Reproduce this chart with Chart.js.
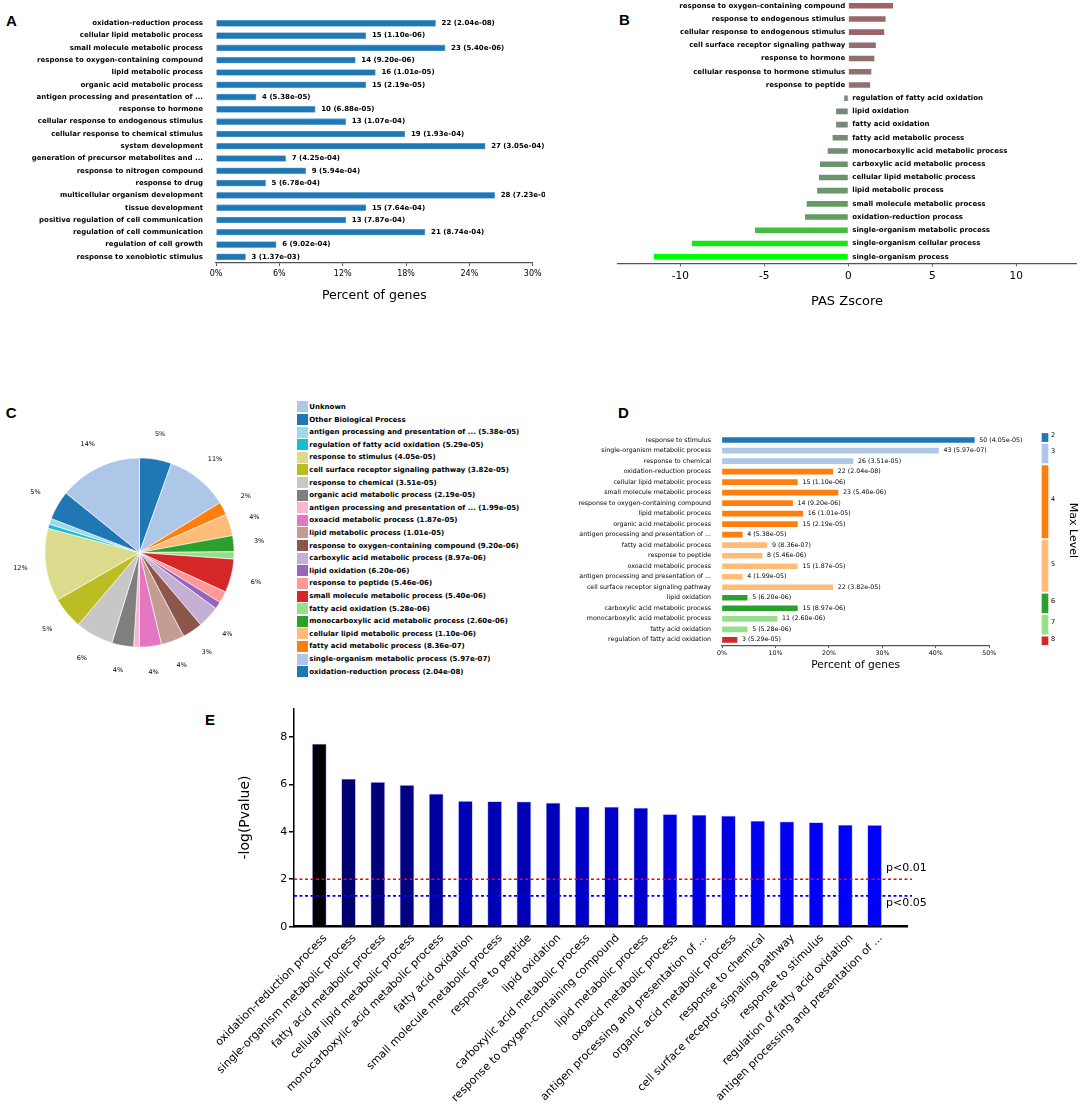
<!DOCTYPE html>
<html>
<head>
<meta charset="utf-8">
<script src="https://cdn.jsdelivr.net/npm/chart.js@4.4.0/dist/chart.umd.min.js"></script>
<style>
  html, body { margin: 0; padding: 0; background: #fff; }
  body { width: 1084px; height: 1105px; position: relative; overflow: hidden; font-family: "DejaVu Sans", sans-serif; }
  canvas { position: absolute; }
  .letter { position: absolute; font: bold 15px "Liberation Sans", Arial, sans-serif; color: #000; line-height: 15px; }
  #legendC { position: absolute; left: 296.7px; top: 400.6px; }
  #legendC .it { height: 12.62px; display: flex; align-items: center; white-space: nowrap; font: bold 7px "DejaVu Sans", sans-serif; color: #000; }
  #legendC .bx { width: 11px; height: 11px; margin-right: 1.6px; flex: none; }
</style>
</head>
<body>
<div class="letter" style="left:6px;top:12.7px">A</div>
<div class="letter" style="left:619px;top:12px">B</div>
<div class="letter" style="left:5.7px;top:405px">C</div>
<div class="letter" style="left:618px;top:405.4px">D</div>
<div class="letter" style="left:205px;top:711.7px">E</div>

<canvas id="chartA" width="545" height="305" style="left:0px;top:0px"></canvas>
<canvas id="chartB" width="539" height="315" style="left:545px;top:-5px"></canvas>
<canvas id="chartC" width="279" height="305" style="left:0px;top:400px"></canvas>
<div id="legendC"></div>
<canvas id="chartD" width="480" height="255" style="left:550px;top:420px"></canvas>
<canvas id="chartLevel" width="48" height="214.5" style="left:1036px;top:430.6px"></canvas>
<canvas id="chartE" width="904" height="415" style="left:180px;top:690px"></canvas>

<script>
// ---- panel A: top GO terms, percent of genes ----
const aLabels = ['oxidation-reduction process', 'cellular lipid metabolic process', 'small molecule metabolic process',
  'response to oxygen-containing compound', 'lipid metabolic process', 'organic acid metabolic process',
  'antigen processing and presentation of ...', 'response to hormone', 'cellular response to endogenous stimulus',
  'cellular response to chemical stimulus', 'system development', 'generation of precursor metabolites and ...',
  'response to nitrogen compound', 'response to drug', 'multicellular organism development', 'tissue development',
  'positive regulation of cell communication', 'regulation of cell communication', 'regulation of cell growth',
  'response to xenobiotic stimulus'];
const aPercent = [20.8, 14.2, 21.7, 13.2, 15.1, 14.2, 3.8, 9.4, 12.3, 17.9, 25.5, 6.6, 8.5, 4.7, 26.4, 14.2, 12.3, 19.8, 5.7, 2.8];
const aCounts = [22, 15, 23, 14, 16, 15, 4, 10, 13, 19, 27, 7, 9, 5, 28, 15, 13, 21, 6, 3];
const aPvals = ['2.04e-08', '1.10e-06', '5.40e-06', '9.20e-06', '1.01e-05', '2.19e-05', '5.38e-05', '6.88e-05', '1.07e-04',
  '1.93e-04', '3.05e-04', '4.25e-04', '5.94e-04', '6.78e-04', '7.23e-04', '7.64e-04', '7.87e-04', '8.74e-04', '9.02e-04', '1.37e-03'];

// ---- panel B: PAS z-scores ----
const bLabels = ['response to oxygen-containing compound', 'response to endogenous stimulus', 'cellular response to endogenous stimulus',
  'cell surface receptor signaling pathway', 'response to hormone', 'cellular response to hormone stimulus', 'response to peptide',
  'regulation of fatty acid oxidation', 'lipid oxidation', 'fatty acid oxidation', 'fatty acid metabolic process',
  'monocarboxylic acid metabolic process', 'carboxylic acid metabolic process', 'cellular lipid metabolic process',
  'lipid metabolic process', 'small molecule metabolic process', 'oxidation-reduction process',
  'single-organism metabolic process', 'single-organism cellular process', 'single-organism process'];
const bZscore = [2.69, 2.25, 2.17, 1.67, 1.58, 1.40, 1.33, -0.27, -0.75, -0.75, -0.96, -1.25, -1.71, -1.77, -1.88, -2.50, -2.60, -5.58, -9.33, -11.60];

// ---- panel C: pie of terms (clockwise from 12 o'clock) ----
const pieNames = ['oxidation-reduction process', 'single-organism metabolic process', 'fatty acid metabolic process',
  'cellular lipid metabolic process', 'monocarboxylic acid metabolic process', 'fatty acid oxidation',
  'small molecule metabolic process', 'response to peptide', 'lipid oxidation', 'carboxylic acid metabolic process',
  'response to oxygen-containing compound', 'lipid metabolic process', 'oxoacid metabolic process',
  'antigen processing and presentation of ...', 'organic acid metabolic process', 'response to chemical',
  'cell surface receptor signaling pathway', 'response to stimulus', 'regulation of fatty acid oxidation',
  'antigen processing and presentation of ...', 'Other Biological Process', 'Unknown'];
const piePvals = ['2.04e-08', '5.97e-07', '8.36e-07', '1.10e-06', '2.60e-06', '5.28e-06', '5.40e-06', '5.46e-06', '6.20e-06',
  '8.97e-06', '9.20e-06', '1.01e-05', '1.87e-05', '1.99e-05', '2.19e-05', '3.51e-05', '3.82e-05', '4.05e-05', '5.29e-05',
  '5.38e-05', '', ''];
const pieCounts = [22, 43, 9, 15, 11, 5, 23, 8, 5, 15, 14, 16, 15, 4, 15, 26, 22, 50, 3, 4, 20, 57];
const pieColors = ['#1f77b4', '#aec7e8', '#ff7f0e', '#ffbb78', '#2ca02c', '#98df8a', '#d62728', '#ff9896', '#9467bd',
  '#c5b0d5', '#8c564b', '#c49c94', '#e377c2', '#f7b6d2', '#7f7f7f', '#c7c7c7', '#bcbd22', '#dbdb8d', '#17becf',
  '#9edae5', '#1f77b4', '#aec7e8'];

// ---- panel D: terms by max level ----
const dLabels = ['response to stimulus', 'single-organism metabolic process', 'response to chemical', 'oxidation-reduction process',
  'cellular lipid metabolic process', 'small molecule metabolic process', 'response to oxygen-containing compound',
  'lipid metabolic process', 'organic acid metabolic process', 'antigen processing and presentation of ...',
  'fatty acid metabolic process', 'response to peptide', 'oxoacid metabolic process', 'antigen processing and presentation of ...',
  'cell surface receptor signaling pathway', 'lipid oxidation', 'carboxylic acid metabolic process',
  'monocarboxylic acid metabolic process', 'fatty acid oxidation', 'regulation of fatty acid oxidation'];
const dPercent = [47.2, 40.5, 24.5, 20.7, 14.1, 21.7, 13.2, 15.1, 14.1, 3.8, 8.4, 7.5, 14.1, 3.8, 20.7, 4.7, 14.1, 10.3, 4.7, 2.8];
const dCounts = [50, 43, 26, 22, 15, 23, 14, 16, 15, 4, 9, 8, 15, 4, 22, 5, 15, 11, 5, 3];
const dPvals = ['4.05e-05', '5.97e-07', '3.51e-05', '2.04e-08', '1.10e-06', '5.40e-06', '9.20e-06', '1.01e-05', '2.19e-05',
  '5.38e-05', '8.36e-07', '5.46e-06', '1.87e-05', '1.99e-05', '3.82e-05', '6.20e-06', '8.97e-06', '2.60e-06', '5.28e-06', '5.29e-05'];
const dLevels = [2, 3, 3, 4, 4, 4, 4, 4, 4, 4, 5, 5, 5, 5, 5, 6, 6, 7, 7, 8];
const levelColors = { 2: '#1f77b4', 3: '#aec7e8', 4: '#ff7f0e', 5: '#ffbb78', 6: '#2ca02c', 7: '#98df8a', 8: '#d62728' };

// ---- panel E: -log(P) ----
const eLabels = ['oxidation-reduction process', 'single-organism metabolic process', 'fatty acid metabolic process',
  'cellular lipid metabolic process', 'monocarboxylic acid metabolic process', 'fatty acid oxidation',
  'small molecule metabolic process', 'response to peptide', 'lipid oxidation', 'carboxylic acid metabolic process',
  'response to oxygen-containing compound', 'lipid metabolic process', 'oxoacid metabolic process',
  'antigen processing and presentation of ...', 'organic acid metabolic process', 'response to chemical',
  'cell surface receptor signaling pathway', 'response to stimulus', 'regulation of fatty acid oxidation',
  'antigen processing and presentation of ...'];
const eValues = [7.69, 6.22, 6.08, 5.96, 5.59, 5.28, 5.27, 5.26, 5.21, 5.05, 5.04, 5.00, 4.73, 4.70, 4.66, 4.45, 4.42, 4.39, 4.28, 4.27];
const eCutoffs = [2, 1.3];
const eCutoffLabels = ['p<0.01', 'p<0.05'];
const eCutoffColors = ['#ff0000', '#0000ff'];

Chart.defaults.font.family = '"DejaVu Sans", sans-serif';
Chart.defaults.color = '#000';
Chart.defaults.animation = false;
Chart.defaults.plugins.legend.display = false;
Chart.defaults.plugins.tooltip.enabled = false;

// text after the end of each horizontal bar
const barTextPlugin = {
  id: 'barText',
  afterDatasetsDraw(chart, args, opts) {
    const { ctx } = chart;
    const meta = chart.getDatasetMeta(0);
    ctx.save();
    ctx.font = opts.font;
    ctx.fillStyle = '#000';
    ctx.textBaseline = 'middle';
    ctx.textAlign = 'left';
    meta.data.forEach((bar, i) => {
      ctx.fillText(opts.texts[i], bar.x + opts.gap, bar.y);
    });
    ctx.restore();
  }
};

// ---------- A ----------
new Chart(document.getElementById('chartA'), {
  type: 'bar',
  data: {
    labels: aLabels,
    datasets: [{ data: aPercent, backgroundColor: '#1f77b4', borderColor: '#6aa6d6', borderWidth: 0.8, barThickness: 6 }]
  },
  options: {
    indexAxis: 'y',
    responsive: false,
    layout: { padding: { top: 9.4, right: 12.3, bottom: 0, left: 0 } },
    scales: {
      y: {
        afterFit: s => { s.width = 216; },
        grid: { display: false, drawTicks: false },
        border: { display: false },
        ticks: { autoSkip: false, padding: 13, font: { size: 7, weight: 'bold' } }
      },
      x: {
        min: 0, max: 30,
        afterFit: s => { s.height = 42; },
        ticks: { stepSize: 6, callback: v => v + '%', font: { size: 8 }, padding: 3 },
        grid: { drawOnChartArea: false, tickLength: 3, color: '#555' },
        border: { color: '#555', width: 1.3 },
        title: { display: true, text: 'Percent of genes', font: { size: 12.5 }, padding: { top: 0, bottom: 1.5 } }
      }
    },
    plugins: {
      barText: { texts: aLabels.map((_, i) => aCounts[i] + ' (' + aPvals[i] + ')'), font: 'bold 7px "DejaVu Sans"', gap: 6 }
    }
  },
  plugins: [barTextPlugin]
});

// ---------- B ----------
const bMax = Math.max(...bZscore.map(Math.abs));
function zColor(v) {
  const t = Math.min(1, Math.abs(v) / bMax);
  const hi = Math.round(128 + 127 * t), lo = Math.round(128 - 128 * t);
  return v >= 0 ? `rgb(${hi},${lo},${lo})` : `rgb(${lo},${hi},${lo})`;
}
const zeroLabelPlugin = {
  id: 'zeroLabels',
  afterDatasetsDraw(chart) {
    const { ctx } = chart;
    const meta = chart.getDatasetMeta(0);
    const x0 = chart.scales.x.getPixelForValue(0);
    ctx.save();
    ctx.font = 'bold 7px "DejaVu Sans"';
    ctx.fillStyle = '#000';
    ctx.textBaseline = 'middle';
    meta.data.forEach((bar, i) => {
      if (bZscore[i] >= 0) { ctx.textAlign = 'right'; ctx.fillText(bLabels[i], x0 - 3, bar.y); }
      else { ctx.textAlign = 'left'; ctx.fillText(bLabels[i], x0 + 4, bar.y); }
    });
    ctx.restore();
  }
};
new Chart(document.getElementById('chartB'), {
  type: 'bar',
  data: {
    labels: bLabels,
    datasets: [{
      data: bZscore,
      backgroundColor: bZscore.map(zColor),
      borderColor: 'rgba(255,255,255,0.45)',
      borderWidth: 0.8,
      barThickness: 6.5
    }]
  },
  options: {
    indexAxis: 'y',
    responsive: false,
    layout: { padding: { top: 4.1, right: 7.3, bottom: 0, left: 72.3 } },
    scales: {
      y: { display: false },
      x: {
        min: -13.75, max: 13.6,
        afterFit: s => { s.height = 46.7; },
        ticks: { stepSize: 5, includeBounds: false, font: { size: 10.5 }, padding: 4 },
        grid: { drawOnChartArea: false, tickLength: 3, color: '#555' },
        border: { color: '#555', width: 1.3 },
        title: { display: true, text: 'PAS Zscore', font: { size: 13 }, padding: { top: 0, bottom: 0.5 } }
      }
    }
  },
  plugins: [zeroLabelPlugin]
});

// ---------- C ----------
const pieLabelPlugin = {
  id: 'pieLabels',
  afterDatasetsDraw(chart) {
    const { ctx } = chart;
    const data = chart.data.datasets[0].data;
    const total = data.reduce((a, b) => a + b, 0);
    ctx.save();
    ctx.font = '6.5px "DejaVu Sans"';
    ctx.fillStyle = '#000';
    ctx.textAlign = 'center';
    ctx.textBaseline = 'middle';
    chart.getDatasetMeta(0).data.forEach((arc, i) => {
      const pct = data[i] / total * 100;
      if (pct < 2) return;
      const a = (arc.startAngle + arc.endAngle) / 2;
      const r = arc.outerRadius * 1.27;
      ctx.fillText(Math.round(pct) + '%', arc.x + Math.cos(a) * r, arc.y + Math.sin(a) * r);
    });
    ctx.restore();
  }
};
new Chart(document.getElementById('chartC'), {
  type: 'pie',
  data: {
    labels: pieNames,
    datasets: [{ data: pieCounts, backgroundColor: pieColors, borderColor: '#fff', borderWidth: 0.6 }]
  },
  options: { responsive: false, radius: 94.6 },
  plugins: [pieLabelPlugin]
});
// legend lists slices in reverse order
const legendC = document.getElementById('legendC');
for (let i = pieNames.length - 1; i >= 0; i--) {
  const it = document.createElement('div');
  it.className = 'it';
  const bx = document.createElement('span');
  bx.className = 'bx';
  bx.style.background = pieColors[i];
  const tx = document.createElement('span');
  tx.textContent = pieNames[i] + (piePvals[i] ? ' (' + piePvals[i] + ')' : '');
  it.appendChild(bx);
  it.appendChild(tx);
  legendC.appendChild(it);
}

// ---------- D ----------
new Chart(document.getElementById('chartD'), {
  type: 'bar',
  data: {
    labels: dLabels,
    datasets: [{ data: dPercent, backgroundColor: dLevels.map(l => levelColors[l]), barThickness: 5 }]
  },
  options: {
    indexAxis: 'y',
    responsive: false,
    layout: { padding: { top: 10.6, right: 40.7, bottom: 0, left: 0 } },
    scales: {
      y: {
        afterFit: s => { s.width = 172; },
        grid: { display: false, drawTicks: false },
        border: { display: false },
        ticks: { autoSkip: false, padding: 11, font: { size: 6.3 } }
      },
      x: {
        min: 0, max: 50,
        afterFit: s => { s.height = 29.9; },
        ticks: { stepSize: 10, callback: v => v + '%', font: { size: 6.3 }, padding: 1.5 },
        grid: { drawOnChartArea: false, tickLength: 3, color: '#555' },
        border: { color: '#555', width: 1.2 },
        title: { display: true, text: 'Percent of genes', font: { size: 10.6 }, padding: { top: 0, bottom: 3.6 } }
      }
    },
    plugins: {
      barText: { texts: dLabels.map((_, i) => dCounts[i] + ' (' + dPvals[i] + ')'), font: '6.3px "DejaVu Sans"', gap: 5 }
    }
  },
  plugins: [barTextPlugin]
});

// level strip next to panel D: one floating bar per level, spanning its rows
const levelGroups = [];
dLevels.forEach((l, i) => {
  const g = levelGroups.find(x => x.level === l);
  if (g) g.last = i; else levelGroups.push({ level: l, first: i, last: i });
});
const levelTextPlugin = {
  id: 'levelText',
  afterDatasetsDraw(chart) {
    const { ctx } = chart;
    ctx.save();
    ctx.fillStyle = '#000';
    ctx.font = '6.5px "DejaVu Sans"';
    ctx.textAlign = 'left';
    ctx.textBaseline = 'middle';
    chart.data.datasets.forEach((ds, i) => {
      const bar = chart.getDatasetMeta(i).data[0];
      ctx.fillText(ds.label, bar.x + bar.width / 2 + 3, (bar.y + bar.base) / 2 - 2);
    });
    ctx.font = '11px "DejaVu Sans"';
    ctx.textAlign = 'center';
    ctx.translate(36.8, 99.4);
    ctx.rotate(Math.PI / 2);
    ctx.fillText('Max Level', 0, 0);
    ctx.restore();
  }
};
new Chart(document.getElementById('chartLevel'), {
  type: 'bar',
  data: {
    labels: ['level'],
    datasets: levelGroups.map(g => ({
      label: String(g.level),
      data: [[g.first - 0.27, g.last + 0.49]],
      backgroundColor: levelColors[g.level],
      grouped: false,
      barThickness: 6
    }))
  },
  options: {
    responsive: false,
    layout: { padding: { top: 0, right: 30, bottom: 0, left: 0 } },
    scales: {
      x: { display: false },
      y: { display: false, min: -0.5, max: 19.5, reverse: true }
    }
  },
  plugins: [levelTextPlugin]
});

// ---------- E ----------
const eMax = Math.max(...eValues), eMin = Math.min(...eValues);
const eColors = eValues.map(v => `rgb(0,0,${Math.round(255 * (1 - (v - eMin) / (eMax - eMin)))})`);
const cutoffTextPlugin = {
  id: 'cutoffText',
  afterDatasetsDraw(chart) {
    const { ctx } = chart;
    const xs = chart.scales.x, ys = chart.scales.y;
    ctx.save();
    ctx.font = '11px "DejaVu Sans"';
    ctx.fillStyle = '#000';
    ctx.textAlign = 'left';
    ctx.textBaseline = 'middle';
    const x = xs.getPixelForValue(eValues.length - 1) + 11.5;
    ctx.fillText(eCutoffLabels[0], x, ys.getPixelForValue(eCutoffs[0]) - 11);
    ctx.fillText(eCutoffLabels[1], x, ys.getPixelForValue(eCutoffs[1]) + 7.5);
    ctx.restore();
  }
};
const eXMin = -0.866, eXMax = 20.13;
new Chart(document.getElementById('chartE'), {
  type: 'bar',
  data: {
    datasets: [
      {
        type: 'bar', order: 1,
        data: eValues.map((v, i) => ({ x: i, y: v })),
        backgroundColor: eColors,
        borderColor: 'rgba(150,150,255,0.7)',
        borderWidth: 0.8,
        barThickness: 14
      },
      ...eCutoffs.map((c, k) => ({
        type: 'line', order: 0, clip: false,
        data: [{ x: eXMin, y: c }, { x: eXMax + 0.15, y: c }],
        borderColor: eCutoffColors[k], borderWidth: 1.6, borderDash: [3, 2.5], pointRadius: 0
      }))
    ]
  },
  options: {
    responsive: false,
    layout: { padding: { top: 18.3, right: 176.4, bottom: 0, left: 0 } },
    scales: {
      x: {
        type: 'linear', min: eXMin, max: eXMax, offset: false,
        afterFit: s => { s.height = 178.3; },
        grid: { display: false, drawTicks: false, offset: false },
        border: { color: '#000', width: 2.5 },
        ticks: {
          stepSize: 1, includeBounds: false, autoSkip: false, maxTicksLimit: 30,
          minRotation: 45, maxRotation: 45, labelOffset: 6, padding: 5,
          font: { size: 11 },
          callback: v => (Number.isInteger(v) && eLabels[v]) ? eLabels[v] : ''
        }
      },
      y: {
        min: 0, max: 9.2,
        afterFit: s => { s.width = 114; },
        grid: { drawOnChartArea: false, tickLength: 5, color: '#000', lineWidth: 1.5 },
        border: { color: '#000', width: 1.5 },
        ticks: { stepSize: 2, includeBounds: false, font: { size: 11 }, padding: 1.7 },
        title: { display: true, text: '-log(Pvalue)', font: { size: 14 }, padding: { top: 56.6, bottom: 0 } }
      }
    }
  },
  plugins: [cutoffTextPlugin]
});
</script>
</body>
</html>
